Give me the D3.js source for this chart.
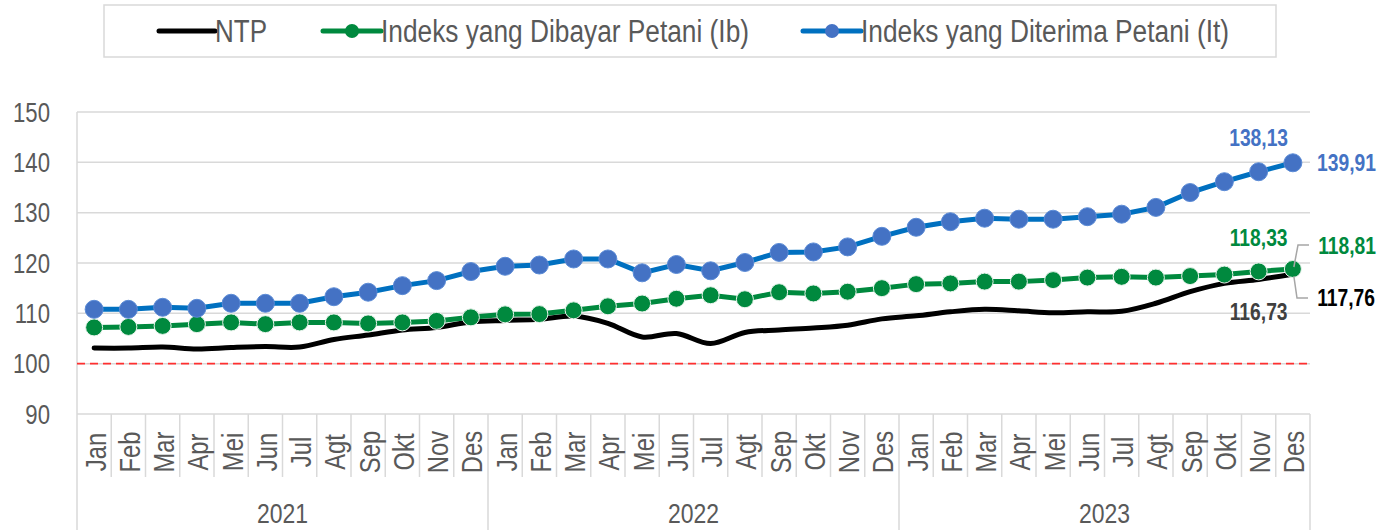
<!DOCTYPE html>
<html><head><meta charset="utf-8">
<script src="https://cdn.jsdelivr.net/npm/d3@7"></script>
<style>
html,body{margin:0;padding:0;background:#fff;}
svg{display:block;font-family:"Liberation Sans Narrow","Arial Narrow","Liberation Sans",Arial,sans-serif;}
</style></head>
<body><svg id="c" width="1379" height="532"></svg>
<script>
const months = ["Jan","Feb","Mar","Apr","Mei","Jun","Jul","Agt","Sep","Okt","Nov","Des"];
const years = ["2021","2022","2023"];
const yTicks = [90,100,110,120,130,140,150];
const ntp = [103.1,103.1,103.3,102.9,103.2,103.4,103.3,104.8,105.7,106.7,107.2,108.3,
             108.6,108.8,109.45,108.0,105.3,106.0,104.0,106.2,106.7,107.1,107.65,108.9,
             109.5,110.3,110.8,110.5,110.1,110.3,110.4,112.0,114.3,115.95,116.73,117.76];
const ib = [107.2,107.3,107.5,107.85,108.2,107.85,108.2,108.2,108.0,108.2,108.5,109.2,
            109.8,109.85,110.6,111.4,111.95,112.9,113.6,112.8,114.2,113.95,114.3,115.0,
            115.8,115.95,116.3,116.3,116.6,117.1,117.25,117.1,117.4,117.7,118.33,118.81];
const it = [110.8,110.8,111.2,111.0,112.0,112.0,112.0,113.3,114.2,115.5,116.5,118.3,
            119.35,119.6,120.8,120.8,118.05,119.7,118.45,120.1,122.1,122.2,123.2,125.3,
            127.1,128.2,128.9,128.7,128.7,129.2,129.7,131.05,134.0,136.15,138.13,139.91];
const seriesNames = ["NTP","Indeks yang Dibayar Petani (Ib)","Indeks yang Diterima Petani (It)"];
const refValue = 100;

const cats = [];
years.forEach(y => months.forEach(m => cats.push({y, m, key: y + "-" + m})));

const svg = d3.select("#c");
const L = 77, R = 1310, T = 112, B = 414;
const x = d3.scaleBand().domain(cats.map(d => d.key)).range([L, R]).padding(0);
const cx = i => x(cats[i].key) + x.bandwidth() / 2;
const y = d3.scaleLinear().domain([90, 150]).range([B, T]);

const grid = "#d9d9d9", txt = "#595959";
const cBlack = "#000000", cGreen = "#00893e", cBlueL = "#0070c0", cBlueM = "#4472c4";

// gridlines
svg.append("g").selectAll("line").data(yTicks).join("line")
  .attr("x1", L).attr("x2", R).attr("y1", d => y(d)).attr("y2", d => y(d))
  .attr("stroke", grid).attr("stroke-width", 1.5);
svg.append("line").attr("x1", L).attr("x2", L).attr("y1", T).attr("y2", B)
  .attr("stroke", grid).attr("stroke-width", 1.5);
svg.append("g").attr("class", "narrow").selectAll("text").data(yTicks).join("text")
  .attr("x", 50).attr("y", d => y(d)).attr("dy", "0.36em")
  .attr("text-anchor", "end").attr("font-size", 27).attr("fill", txt).text(d => d);

// month separators
const bounds = d3.range(cats.length + 1).map(i => L + i * x.bandwidth());
svg.append("g").selectAll("line").data(bounds).join("line")
  .attr("x1", d => d).attr("x2", d => d).attr("y1", B).attr("y2", (d, i) => i % 12 === 0 ? 530 : 477)
  .attr("stroke", grid).attr("stroke-width", 1.5);
svg.append("g").attr("class", "narrow").selectAll("text").data(cats).join("text")
  .attr("transform", (d, i) => `translate(${cx(i) + 1},452) rotate(-90)`)
  .attr("text-anchor", "middle").attr("dy", "0.36em")
  .attr("font-size", 29).attr("fill", txt).text(d => d.m);
svg.append("g").attr("class", "narrow").selectAll("text").data(years).join("text")
  .attr("x", (d, i) => L + (i * 12 + 6) * x.bandwidth()).attr("y", 513).attr("dy", "0.36em")
  .attr("text-anchor", "middle").attr("font-size", 28).attr("fill", txt).text(d => d);

// reference line
svg.append("line").attr("x1", L).attr("x2", R).attr("y1", y(refValue)).attr("y2", y(refValue))
  .attr("stroke", "#ff3030").attr("stroke-width", 1.6).attr("stroke-dasharray", "8,5");

// series
const lineSmooth = d3.line().x((d, i) => cx(i)).y(d => y(d)).curve(d3.curveCatmullRom);
const lineStraight = d3.line().x((d, i) => cx(i)).y(d => y(d));
svg.append("path").attr("d", lineSmooth(ntp)).attr("fill", "none")
  .attr("stroke", cBlack).attr("stroke-width", 5).attr("stroke-linejoin", "round").attr("stroke-linecap", "round");
svg.append("path").attr("d", lineStraight(ib)).attr("fill", "none")
  .attr("stroke", cGreen).attr("stroke-width", 5);
svg.append("g").selectAll("circle").data(ib).join("circle")
  .attr("cx", (d, i) => cx(i)).attr("cy", d => y(d)).attr("r", 8.5)
  .attr("fill", cGreen).attr("stroke", "#e8f4ec").attr("stroke-width", 1);
svg.append("path").attr("d", lineStraight(it)).attr("fill", "none")
  .attr("stroke", cBlueL).attr("stroke-width", 5);
svg.append("g").selectAll("circle").data(it).join("circle")
  .attr("cx", (d, i) => cx(i)).attr("cy", d => y(d)).attr("r", 9)
  .attr("fill", cBlueM).attr("stroke", "#5b8bd6").attr("stroke-width", 1);

// data labels (condensed by a horizontal scale)
const fmt = v => v.toFixed(2).replace(".", ",");
const n = cats.length;
function lab(v, xx, yy, col, anchor) {
  svg.append("g").attr("transform", `translate(${xx},${yy}) scale(0.82,1)`)
    .append("text").attr("x", 0).attr("y", 0).attr("dy", "0.36em")
    .attr("text-anchor", anchor).attr("font-size", 23.5).attr("font-weight", "bold")
    .attr("fill", col).text(fmt(v));
}
lab(it[n - 2], cx(n - 2), 138, cBlueM, "middle");
lab(it[n - 1], 1376, 163, cBlueM, "end");
lab(ib[n - 2], cx(n - 2), 238, cGreen, "middle");
lab(ib[n - 1], 1376, 246, cGreen, "end");
lab(ntp[n - 2], cx(n - 2), 312, "#404040", "middle");
lab(ntp[n - 1], 1375, 298, cBlack, "end");
svg.append("path").attr("d", `M${cx(n - 1) + 1},${y(ib[n - 1]) - 2} L1298,245 L1309,245`)
  .attr("fill", "none").attr("stroke", "#a6a6a6").attr("stroke-width", 1.5);
svg.append("path").attr("d", `M${cx(n - 1) + 1},${y(ntp[n - 1]) + 2} L1297,298 L1308,298`)
  .attr("fill", "none").attr("stroke", "#a6a6a6").attr("stroke-width", 1.5);

// legend
svg.append("rect").attr("x", 104).attr("y", 5).attr("width", 1172).attr("height", 52)
  .attr("fill", "#fff").attr("stroke", grid).attr("stroke-width", 1.5);
const leg = [
  {name: seriesNames[0], lx: 159, tx: 215, w: 52, col: cBlack, mk: null},
  {name: seriesNames[1], lx: 323, tx: 381, w: 368, col: cGreen, mk: cGreen},
  {name: seriesNames[2], lx: 803, tx: 861, w: 368, col: cBlueL, mk: cBlueM}
];
const lg = svg.append("g").selectAll("g").data(leg).join("g");
lg.append("line").attr("x1", d => d.lx).attr("x2", d => d.tx).attr("y1", 31).attr("y2", 31)
  .attr("stroke", d => d.col).attr("stroke-width", 5).attr("stroke-linecap", "round");
lg.filter(d => d.mk).append("circle").attr("cx", d => (d.lx + d.tx) / 2).attr("cy", 31).attr("r", 7)
  .attr("fill", d => d.mk);
lg.append("text").attr("x", d => d.tx).attr("y", 31).attr("dy", "0.36em")
  .attr("font-size", 31).attr("fill", txt).text(d => d.name)
  .attr("textLength", d => d.w).attr("lengthAdjust", "spacingAndGlyphs");

// condense text to mimic a narrow typeface when one is not available
svg.selectAll(".narrow text").each(function () {
  const w = this.getComputedTextLength();
  d3.select(this).attr("textLength", w * 0.82).attr("lengthAdjust", "spacingAndGlyphs");
});
</script></body></html>
